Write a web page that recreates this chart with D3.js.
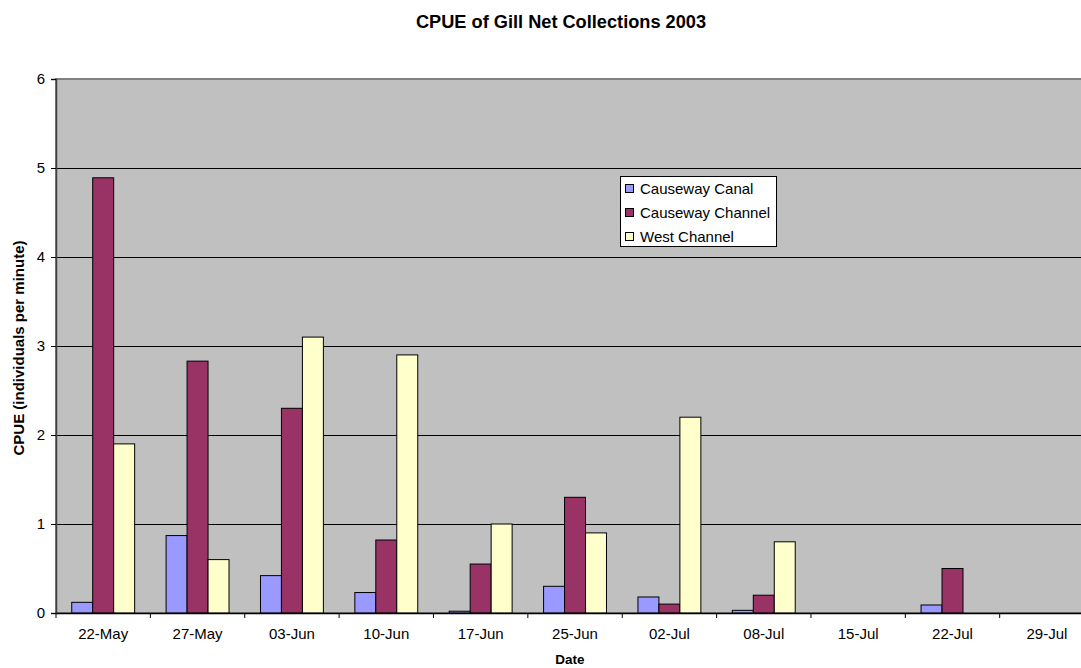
<!DOCTYPE html>
<html><head><meta charset="utf-8">
<script src="https://cdn.jsdelivr.net/npm/d3@7"></script>
<style>body{margin:0;background:#fff;overflow:hidden}svg{display:block;font-family:"Liberation Sans",Arial,sans-serif}</style>
</head><body>
<svg id="c" width="1081" height="668"></svg>
<script>
const categories = ["22-May","27-May","03-Jun","10-Jun","17-Jun","25-Jun","02-Jul","08-Jul","15-Jul","22-Jul","29-Jul"];
const seriesNames = ["Causeway Canal","Causeway Channel","West Channel"];
const causewayCanal   = [0.12,0.87,0.42,0.23,0.02,0.30,0.18,0.03,0,0.09,0];
const causewayChannel = [4.89,2.83,2.30,0.82,0.55,1.30,0.10,0.20,0,0.50,0];
const westChannel     = [1.90,0.60,3.10,2.90,1.00,0.90,2.20,0.80,0,0,0];
const yTicks = [0,1,2,3,4,5,6];
const colors = ["#9999FF","#993366","#FFFFCC"];
const series = [causewayCanal, causewayChannel, westChannel];

const svg = d3.select("#c");
const L = 56, T = 79, B = 613, R = 56 + 11*94.37;
const x = d3.scaleBand().domain(categories).range([L, R]).paddingInner(0).paddingOuter(0);
const bw = x.bandwidth()/4.5;
const y = d3.scaleLinear().domain([0,6]).range([B, T]);

svg.append("rect").attr("x",L).attr("y",T).attr("width",R-L).attr("height",B-T).attr("fill","#C0C0C0").attr("stroke","#808080").attr("stroke-width",2);

svg.append("g").selectAll("line").data(yTicks.slice(1,-1)).join("line")
  .attr("x1",L).attr("x2",R).attr("y1",d=>y(d)).attr("y2",d=>y(d)).attr("stroke","#000").attr("stroke-width",1).attr("shape-rendering","crispEdges");

series.forEach((vals,si)=>{
  svg.append("g").selectAll("rect").data(vals.map((v,i)=>({v,c:categories[i]})).filter(d=>d.v>0)).join("rect")
    .attr("x",d=>x(d.c)+0.75*bw+si*bw).attr("width",bw)
    .attr("y",d=>y(d.v)).attr("height",d=>B-y(d.v))
    .attr("fill",colors[si]).attr("stroke","#000").attr("stroke-width",1);
});

// axes
const yAxis = d3.axisLeft(y).tickValues(yTicks).tickSize(5).tickPadding(6).tickFormat(d3.format("d"));
const gy = svg.append("g").attr("transform",`translate(${L},0)`).call(yAxis);
gy.select(".domain").attr("stroke","#404040").attr("stroke-width",1.5);
gy.selectAll(".tick line").attr("stroke","#000");
gy.selectAll("text").attr("font-size",15).attr("fill","#000").attr("font-family","Liberation Sans, Arial, sans-serif");

const xAxis = d3.axisBottom(x).tickSize(0).tickPadding(15);
const gx = svg.append("g").attr("transform",`translate(0,${B})`).call(xAxis);
gx.select(".domain").attr("stroke","#000").attr("stroke-width",1.5);
gx.selectAll("text").attr("font-size",15).attr("fill","#000").attr("font-family","Liberation Sans, Arial, sans-serif");
// boundary ticks between categories
svg.append("g").selectAll("line").data(categories).join("line")
  .attr("x1",d=>x(d)).attr("x2",d=>x(d)).attr("y1",B).attr("y2",B+5).attr("stroke","#000");

svg.append("text").attr("x",561).attr("y",28).attr("text-anchor","middle").attr("font-size",18.2).attr("font-weight","bold").text("CPUE of Gill Net Collections 2003");
svg.append("text").attr("x",570).attr("y",664).attr("text-anchor","middle").attr("font-size",13.5).attr("font-weight","bold").text("Date");
svg.append("text").attr("transform","translate(24,348) rotate(-90)").attr("text-anchor","middle").attr("font-size",15).attr("font-weight","bold").text("CPUE (individuals per minute)");

// legend
const lg = svg.append("g");
lg.append("rect").attr("x",620.5).attr("y",176.5).attr("width",156).attr("height",70).attr("fill","#fff").attr("stroke","#000");
seriesNames.forEach((n,i)=>{
  lg.append("rect").attr("x",625.5).attr("y",184.5+i*24).attr("width",8).attr("height",8).attr("fill",colors[i]).attr("stroke","#000");
  lg.append("text").attr("x",640).attr("y",194+i*24).attr("font-size",15).text(n);
});
</script>
</body></html>
